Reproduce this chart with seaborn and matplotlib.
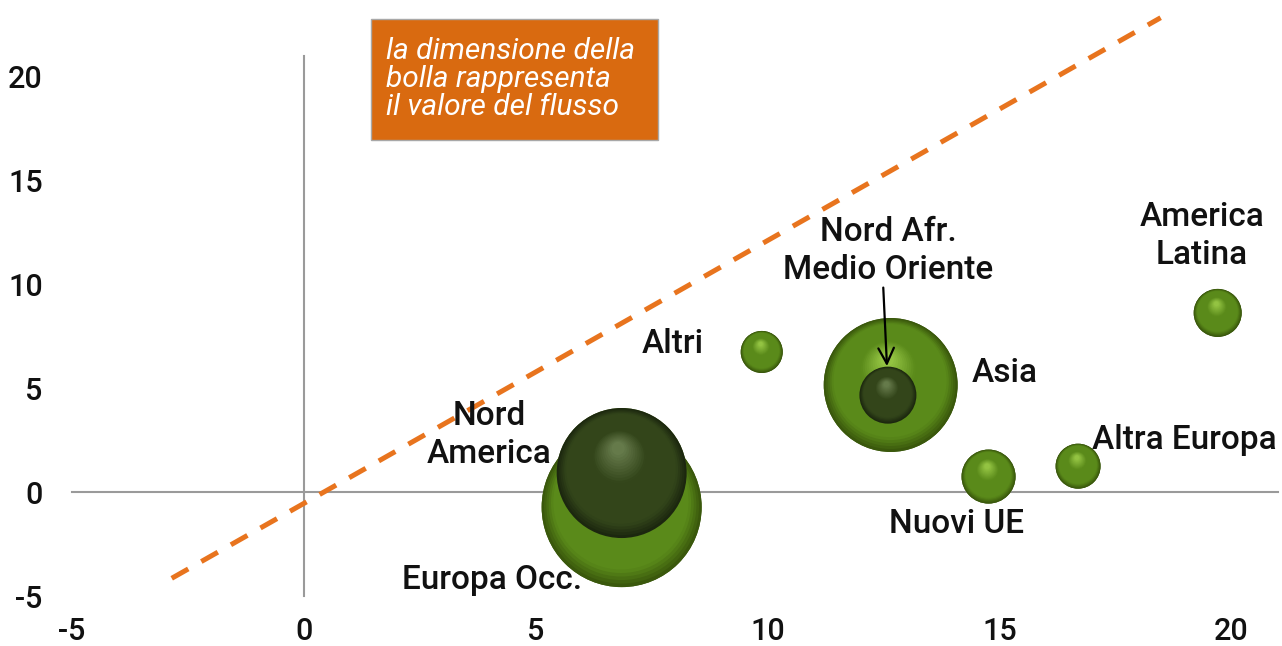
import numpy as np
import pandas as pd
import matplotlib
matplotlib.use("Agg")
import matplotlib.pyplot as plt
import seaborn as sns
from matplotlib import transforms
from matplotlib.patches import Rectangle
from matplotlib.colors import to_rgb

# ---------------- data ----------------
regions = ["Europa Occ.", "Nord America", "Asia", "Nord Afr.\nMedio Oriente",
           "Altri", "America\nLatina", "Altra Europa", "Nuovi UE"]
x_vals = [6.85, 6.85, 12.65, 12.59, 9.87, 19.70, 16.69, 14.76]
y_vals = [-0.72, 0.92, 5.16, 4.67, 6.75, 8.63, 1.25, 0.75]
flow = [100, 66, 70, 12.7, 6.9, 9.0, 7.9, 11.4]
tone = ["light", "dark", "light", "dark", "light", "light", "light", "light"]

trend_x = [-2.85, 18.47]
trend_slope = 1.266
trend_intercept = -0.54

x_ticks = [-5, 0, 5, 10, 15, 20]
y_ticks = [-5, 0, 5, 10, 15, 20]

note_text = "la dimensione della\nbolla rappresenta\nil valore del flusso"

# label placement (layout, not data)
label_pos = {
    "Europa Occ.": (4.05, -4.24, "center"),
    "Nord America": (4.0, 2.75, "center"),
    "Asia": (14.4, 5.73, "left"),
    "Nord Afr.\nMedio Oriente": (12.59, 11.6, "center"),
    "Altri": (8.62, 7.13, "right"),
    "America\nLatina": (19.36, 12.34, "center"),
    "Altra Europa": (16.98, 2.5, "left"),
    "Nuovi UE": (14.07, -1.54, "center"),
}
label_text = {"Nord America": "Nord\nAmerica"}

df = pd.DataFrame({"region": regions, "x": x_vals, "y": y_vals,
                   "flow": flow, "tone": tone})
tdf = pd.DataFrame({"x": trend_x})
tdf["y"] = trend_slope * tdf["x"] + trend_intercept

# ---------------- style ----------------
sns.set_style("white")
plt.rcParams["font.family"] = ["Roboto", "DejaVu Sans"]
plt.rcParams["axes.unicode_minus"] = False

fig = plt.figure(figsize=(12.82, 6.46), dpi=100)
ax = fig.add_axes([72 / 1282, 50 / 646, 1206 / 1282, 540 / 646])
ax.set_xlim(-5, 21)
ax.set_ylim(-5, 21)

AXIS_GREY = "#9a9a9a"
ORANGE = "#E8741E"
TXT = "#111111"

# trend line
sns.lineplot(data=tdf, x="x", y="y", ax=ax, color=ORANGE, lw=3.6,
             dashes=False, zorder=1.5)
ln = ax.lines[-1]
ln.set_dashes((3.8, 3.0))
ln.set_solid_capstyle("butt")
ln.set_dash_capstyle("butt")
ln.set_clip_on(False)

# bubbles (base)
SMAX = 13271.0
sns.scatterplot(data=df, x="x", y="y", size="flow", sizes=(0, SMAX),
                size_norm=(0, 100), legend=False, ax=ax,
                color="#3b5a0c", edgecolor="none", zorder=2)

palettes = {
    "light": ("#3a580c", "#5a8a1a", "#98c846"),
    "dark": ("#1c270f", "#33451a", "#6a7f4f"),
}


def blend(c1, c2, t):
    a, b = np.array(to_rgb(c1)), np.array(to_rgb(c2))
    return tuple(a + (b - a) * t)


N = 30
for i, row in df.iterrows():
    s_full = SMAX * row["flow"] / 100.0
    r_pts = np.sqrt(s_full) / 2.0
    edge, body, hi = palettes[row["tone"]]
    z = 3 + i * 0.1
    for k in range(N):
        t = k / N * 0.93
        f = 1 - t
        if t < 0.14:
            col = blend(edge, body, t / 0.14)
        elif t < 0.58:
            col = body
        else:
            col = blend(body, hi, (t - 0.58) / 0.35)
        tr = transforms.offset_copy(ax.transData, fig=fig,
                                    x=-0.06 * t * r_pts, y=0.42 * t * r_pts,
                                    units="points")
        ax.scatter([row["x"]], [row["y"]], s=s_full * f * f, color=[col],
                   edgecolors="none", transform=tr, zorder=z + k * 0.001)

# labels
for r in regions:
    lx, ly, ha = label_pos[r]
    ax.text(lx, ly, label_text.get(r, r), ha=ha, va="center", fontsize=24,
            color=TXT, linespacing=1.25, zorder=10, fontweight="medium")

# arrow for Nord Afr.
na = df[df["region"] == "Nord Afr.\nMedio Oriente"].iloc[0]
ax.annotate("", xy=(na["x"] - 0.02, na["y"] + 1.4), xytext=(na["x"] - 0.1, 9.85),
            arrowprops=dict(arrowstyle="->", color="black", lw=1.6,
                            mutation_scale=28, shrinkA=0, shrinkB=0),
            zorder=12)

# axes at zero
for s in ["top", "right"]:
    ax.spines[s].set_visible(False)
ax.spines["left"].set_position(("data", 0))
ax.spines["bottom"].set_position(("data", 0))
for s in ["left", "bottom"]:
    ax.spines[s].set_color(AXIS_GREY)
    ax.spines[s].set_linewidth(1.5)
    ax.spines[s].set_zorder(1)
ax.set_xticks(x_ticks)
ax.set_yticks(y_ticks)
ax.tick_params(axis="x", direction="out", length=6, width=1.5,
               color=AXIS_GREY, labelbottom=False)
ax.tick_params(axis="y", left=False, labelleft=False)
ax.set_xlabel("")
ax.set_ylabel("")

secx = ax.secondary_xaxis("bottom")
secx.set_xticks(x_ticks)
secx.tick_params(length=0, pad=15, labelsize=22, labelcolor=TXT)
secx.spines["bottom"].set_visible(False)
secy = ax.secondary_yaxis("left")
secy.set_yticks(y_ticks)
secy.tick_params(length=0, pad=21, labelsize=22, labelcolor=TXT)
secy.spines["left"].set_visible(False)
for lab in secx.get_xticklabels() + secy.get_yticklabels():
    lab.set_fontweight("medium")

# note box
fig.patches.append(Rectangle((371 / 1282, 1 - 140 / 646), 287 / 1282, 121 / 646,
                             transform=fig.transFigure, facecolor="#D96A10",
                             edgecolor="#a8a8a8", lw=1.0, zorder=20))
fig.text(386 / 1282, 1 - 79 / 646, note_text, ha="left", va="center",
         fontsize=21.5, style="italic", color="white", linespacing=1.0,
         zorder=21, fontweight="normal")

fig.savefig("out.png", dpi=100)
